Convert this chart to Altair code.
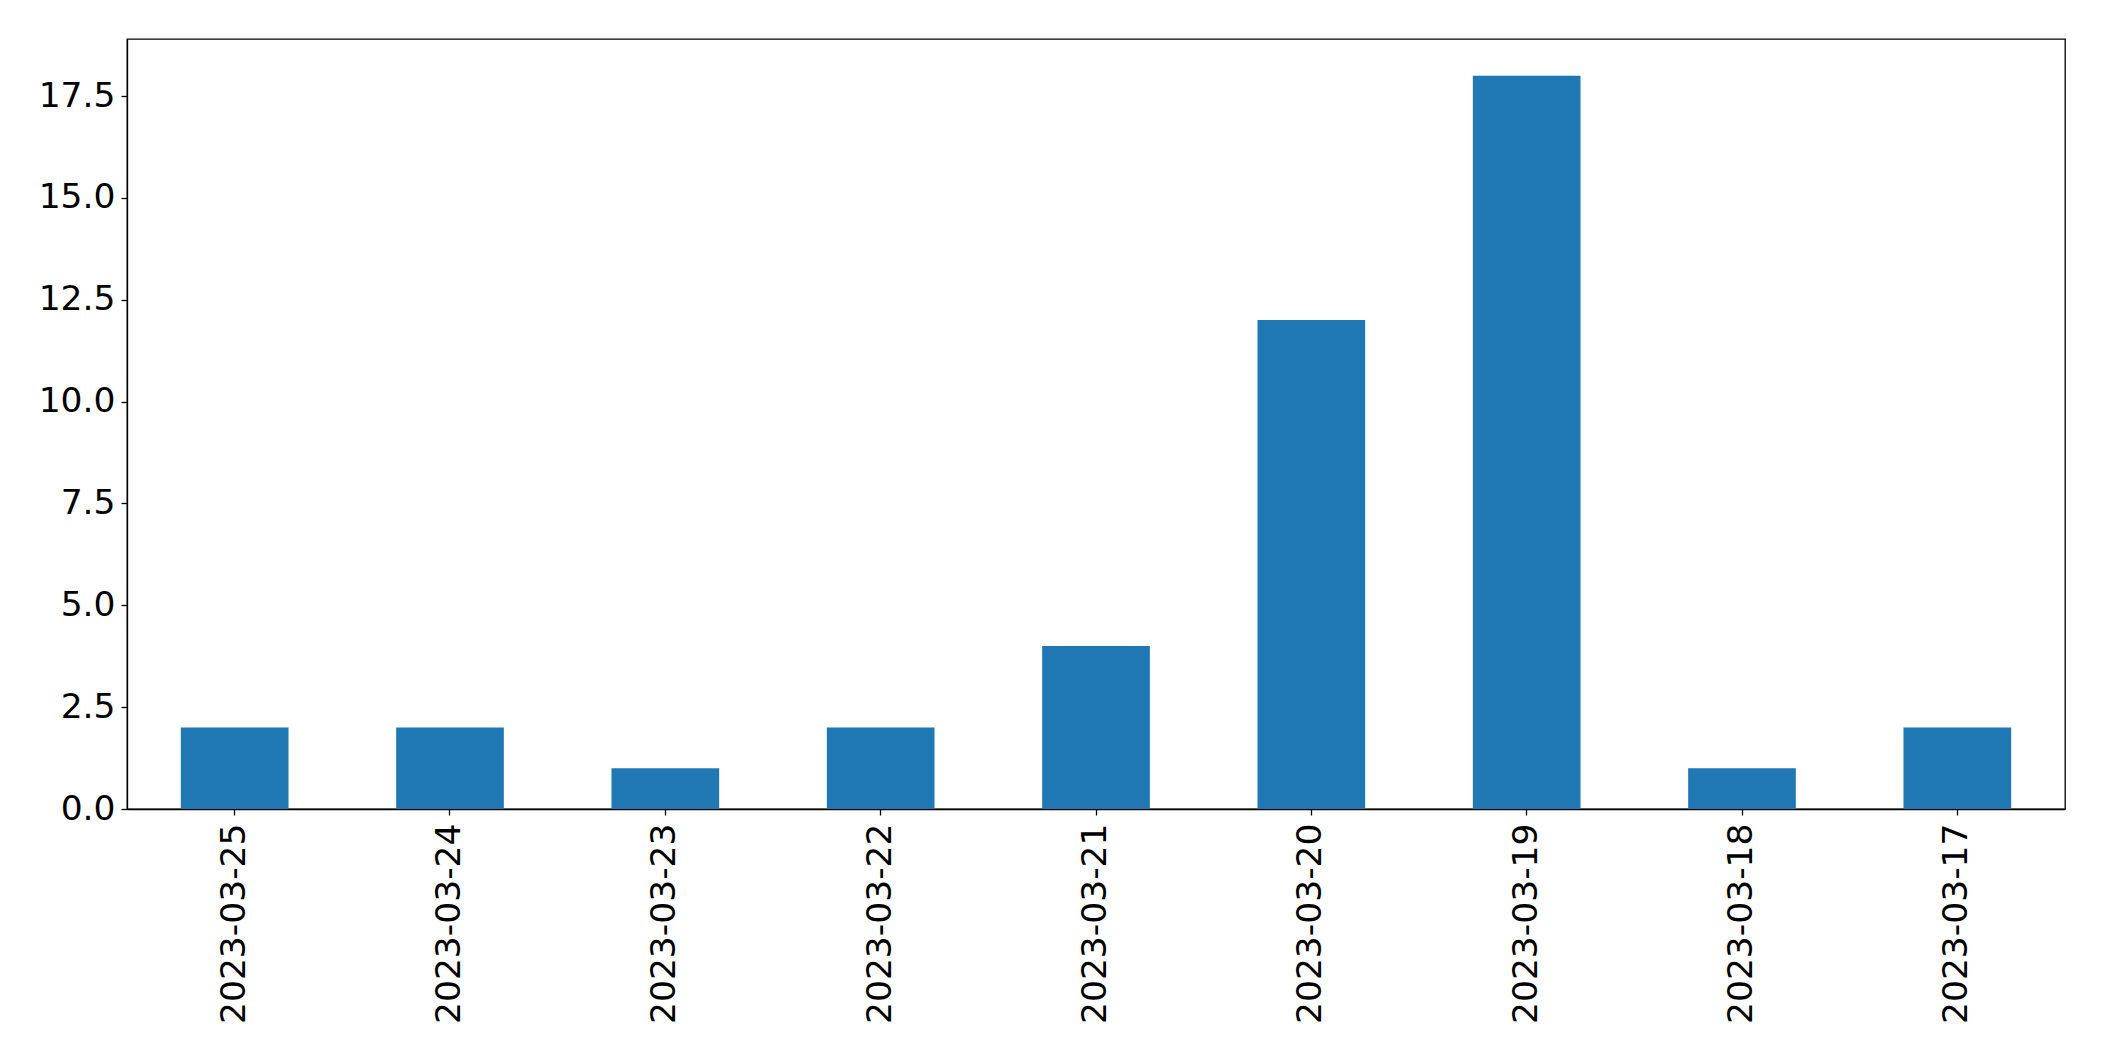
import altair as alt
import pandas as pd

dates = ["2023-03-25", "2023-03-24", "2023-03-23", "2023-03-22", "2023-03-21",
         "2023-03-20", "2023-03-19", "2023-03-18", "2023-03-17"]
counts = [2, 2, 1, 2, 4, 12, 18, 1, 2]
y_ticks = [0, 2.5, 5, 7.5, 10, 12.5, 15, 17.5]

df = pd.DataFrame({"date": dates, "count": counts})

chart = alt.Chart(df).mark_bar(color="#1f77b4").encode(
    x=alt.X("date:N", sort=dates, title=None,
            scale=alt.Scale(paddingInner=0.5, paddingOuter=0.25),
            axis=alt.Axis(labelAngle=270, labelFontSize=34.5, labelFont="DejaVu Sans",
                          labelColor="black", tickColor="black", tickSize=6,
                          labelPadding=8, labelLimit=0, labelOverlap=False,
                          domainColor="black", grid=False)),
    y=alt.Y("count:Q", title=None,
            scale=alt.Scale(domain=[0, 18.9], nice=False, zero=True),
            axis=alt.Axis(values=y_ticks, format=".1f", labelFontSize=34.5,
                          labelFont="DejaVu Sans", labelColor="black",
                          tickColor="black", tickSize=6, labelPadding=6,
                          labelLimit=0, domainColor="black", grid=False)),
).properties(
    width=1938, height=770,
    autosize=alt.AutoSizeParams(type="none"),
    padding={"left": 119, "top": 31, "right": 30, "bottom": 230},
).configure_view(stroke="black", strokeWidth=1.3).configure_axis(
    domainWidth=1.3, tickWidth=1.3
)

chart.save("out.html", embed_options={"renderer": "svg", "actions": False})
